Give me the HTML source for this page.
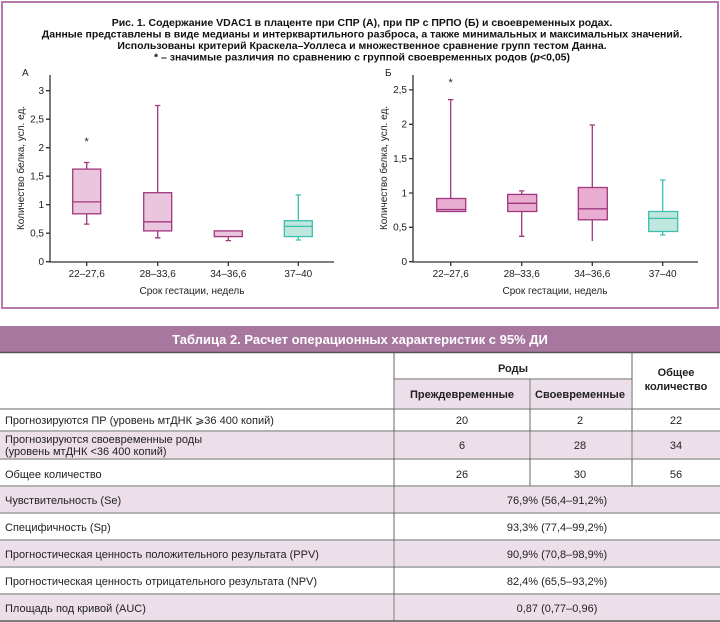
<!DOCTYPE html>
<html><head><meta charset="utf-8"><style>
body{margin:0;background:#fff;width:720px;height:622px;overflow:hidden}
svg{display:block;font-family:"Liberation Sans",sans-serif}
</style></head><body>
<svg width="720" height="622" viewBox="0 0 720 622" xmlns="http://www.w3.org/2000/svg">
<rect x="2" y="2" width="716" height="306" fill="none" stroke="#b57aab" stroke-width="2"/>
<g font-weight="bold" font-size="10.5" text-anchor="middle" fill="#111">
<text x="362" y="26">Рис. 1. Содержание VDAC1 в плаценте при СПР (А), при ПР с ПРПО (Б) и своевременных родах.</text>
<text x="362" y="37.5">Данные представлены в виде медианы и интерквартильного разброса, а также минимальных и максимальных значений.</text>
<text x="362" y="49">Использованы критерий Краскела–Уоллеса и множественное сравнение групп тестом Данна.</text>
<text x="362" y="60.5">* – значимые различия по сравнению с группой своевременных родов (<tspan font-style="italic">p</tspan>&lt;0,05)</text>
</g>
<g font-size="10" fill="#222">
<text x="22" y="76">А</text>
<text x="385" y="76">Б</text>
</g>
<!-- Panel A axes -->
<g stroke="#333" stroke-width="1.3" fill="none">
<path d="M50 75 V262 H334"/>
<path d="M46 261.7H50M46 233.2H50M46 204.7H50M46 176.2H50M46 147.7H50M46 119.2H50M46 90.7H50"/>
<path d="M86.7 262v4M157.7 262v4M228.3 262v4M298.3 262v4"/>
<path d="M413 75 V262 H698"/>
<path d="M409 261.7H413M409 227.3H413M409 193H413M409 158.6H413M409 124.3H413M409 89.9H413"/>
<path d="M450.7 262v4M521.7 262v4M592.3 262v4M662.7 262v4"/>
</g>
<g font-size="10" fill="#222" text-anchor="end">
<text x="44" y="265">0</text><text x="44" y="236.5">0,5</text><text x="44" y="208">1</text><text x="44" y="179.5">1,5</text><text x="44" y="151">2</text><text x="44" y="122.5">2,5</text><text x="44" y="94">3</text>
<text x="407" y="265">0</text><text x="407" y="230.6">0,5</text><text x="407" y="196.3">1</text><text x="407" y="161.9">1,5</text><text x="407" y="127.6">2</text><text x="407" y="93.2">2,5</text>
</g>
<g font-size="10" fill="#222" text-anchor="middle">
<text x="86.7" y="277">22–27,6</text><text x="157.7" y="277">28–33,6</text><text x="228.3" y="277">34–36,6</text><text x="298.3" y="277">37–40</text>
<text x="192" y="294">Срок гестации, недель</text>
<text x="450.7" y="277">22–27,6</text><text x="521.7" y="277">28–33,6</text><text x="592.3" y="277">34–36,6</text><text x="662.7" y="277">37–40</text>
<text x="555" y="294">Срок гестации, недель</text>
<text transform="translate(24,168) rotate(-90)">Количество белка, усл. ед.</text>
<text transform="translate(387,168) rotate(-90)">Количество белка, усл. ед.</text>
</g>
<!-- Panel A boxes: y=261.7-57v -->
<g stroke-width="1.3">
<!-- A1 -->
<g stroke="#a2377f">
<path d="M86.7 169.1V162.5M86.7 213.8V224.1M84 162.5h5.4M84 224.1h5.4" fill="none"/>
<rect x="72.7" y="169.1" width="28" height="44.7" fill="#eac6de"/>
<path d="M72.7 201.9h28" fill="none"/>
</g>
<!-- A2 -->
<g stroke="#a2377f">
<path d="M157.7 192.7V105.5M157.7 230.9V237.8M155 105.5h5.4M155 237.8h5.4" fill="none"/>
<rect x="143.7" y="192.7" width="28" height="38.2" fill="#eac6de"/>
<path d="M143.7 221.8h28" fill="none"/>
</g>
<!-- A3 -->
<g stroke="#a2377f">
<path d="M228.3 236.6V240.6M225.6 240.6h5.4" fill="none"/>
<rect x="214.3" y="230.9" width="28" height="5.7" fill="#eac6de"/>
</g>
<!-- A4 -->
<g stroke="#3cbfae">
<path d="M298.3 220.7V195M298.3 236.6V240M295.6 195h5.4M295.6 240h5.4" fill="none"/>
<rect x="284.3" y="220.7" width="28" height="15.9" fill="#bfe6df"/>
<path d="M284.3 226.4h28" fill="none"/>
</g>
<!-- B boxes: y=261.7-68.7v -->
<g stroke="#a2377f">
<path d="M450.7 198.5V99.6M448 99.6h5.4" fill="none"/>
<rect x="436.7" y="198.5" width="29" height="13" fill="#e8add0"/>
<path d="M436.7 209.5h29" fill="none"/>
</g>
<g stroke="#a2377f">
<path d="M521.7 194.4V190.9M521.7 211.5V236.3M519 190.9h5.4M519 236.3h5.4" fill="none"/>
<rect x="507.7" y="194.4" width="29" height="17.1" fill="#e8add0"/>
<path d="M507.7 203.3h29" fill="none"/>
</g>
<g stroke="#a2377f">
<path d="M592.3 187.5V125M592.3 219.8V241.1M589.6 125h5.4" fill="none"/>
<rect x="578.3" y="187.5" width="29" height="32.3" fill="#e8add0"/>
<path d="M578.3 208.8h29" fill="none"/>
</g>
<g stroke="#3cbfae">
<path d="M662.7 211.5V180M662.7 231.5V234.9M660 180h5.4M660 234.9h5.4" fill="none"/>
<rect x="648.7" y="211.5" width="29" height="20" fill="#bfe6df"/>
<path d="M648.7 218.4h29" fill="none"/>
</g>
</g>
<g font-size="11" fill="#222" text-anchor="middle">
<text x="86.7" y="145">*</text>
<text x="450.7" y="86">*</text>
</g>

<!-- TABLE -->
<rect x="0" y="326" width="720" height="26" fill="#a8779f"/>
<text x="360" y="344" font-size="13" font-weight="bold" fill="#fff" text-anchor="middle">Таблица 2. Расчет операционных характеристик с 95% ДИ</text>
<line x1="0" y1="352.5" x2="720" y2="352.5" stroke="#555" stroke-width="1.5"/>
<g fill="#ecdfe9">
<rect x="395" y="380" width="134" height="28"/>
<rect x="531" y="380" width="100" height="28"/>
<rect x="0" y="432" width="393" height="26"/><rect x="395" y="432" width="134" height="26"/><rect x="531" y="432" width="100" height="26"/><rect x="633" y="432" width="87" height="26"/>
<rect x="0" y="487" width="393" height="25"/><rect x="395" y="487" width="325" height="25"/>
<rect x="0" y="541" width="393" height="25"/><rect x="395" y="541" width="325" height="25"/>
<rect x="0" y="595" width="393" height="25"/><rect x="395" y="595" width="325" height="25"/>
</g>
<g stroke="#666" stroke-width="1">
<line x1="394" y1="353" x2="394" y2="621"/>
<line x1="530" y1="379" x2="530" y2="486"/>
<line x1="632" y1="353" x2="632" y2="486"/>
<line x1="394" y1="379" x2="632" y2="379"/>
<line x1="0" y1="409" x2="720" y2="409"/>
<line x1="0" y1="431" x2="720" y2="431"/>
<line x1="0" y1="459" x2="720" y2="459"/>
<line x1="0" y1="486" x2="720" y2="486"/>
<line x1="0" y1="513" x2="720" y2="513"/>
<line x1="0" y1="540" x2="720" y2="540"/>
<line x1="0" y1="567" x2="720" y2="567"/>
<line x1="0" y1="594" x2="720" y2="594"/>
</g>
<line x1="0" y1="621" x2="720" y2="621" stroke="#555" stroke-width="1.5"/>
<g font-size="11" fill="#222">
<g font-weight="bold" text-anchor="middle">
<text x="513" y="372">Роды</text>
<text x="462" y="398">Преждевременные</text>
<text x="580" y="398">Своевременные</text>
<text x="676" y="376">Общее</text>
<text x="676" y="390">количество</text>
</g>
<text x="5" y="424">Прогнозируются ПР (уровень мтДНК ⩾36 400 копий)</text>
<text x="5" y="443">Прогнозируются своевременные роды</text>
<text x="5" y="455">(уровень мтДНК &lt;36 400 копий)</text>
<text x="5" y="478">Общее количество</text>
<text x="5" y="504">Чувствительность (Se)</text>
<text x="5" y="531">Специфичность (Sp)</text>
<text x="5" y="558">Прогностическая ценность положительного результата (PPV)</text>
<text x="5" y="585">Прогностическая ценность отрицательного результата (NPV)</text>
<text x="5" y="612">Площадь под кривой (AUC)</text>
<g text-anchor="middle">
<text x="462" y="424">20</text><text x="580" y="424">2</text><text x="676" y="424">22</text>
<text x="462" y="449">6</text><text x="580" y="449">28</text><text x="676" y="449">34</text>
<text x="462" y="478">26</text><text x="580" y="478">30</text><text x="676" y="478">56</text>
<text x="557" y="504">76,9% (56,4–91,2%)</text>
<text x="557" y="531">93,3% (77,4–99,2%)</text>
<text x="557" y="558">90,9% (70,8–98,9%)</text>
<text x="557" y="585">82,4% (65,5–93,2%)</text>
<text x="557" y="612">0,87 (0,77–0,96)</text>
</g>
</g>
</svg>
</body></html>
